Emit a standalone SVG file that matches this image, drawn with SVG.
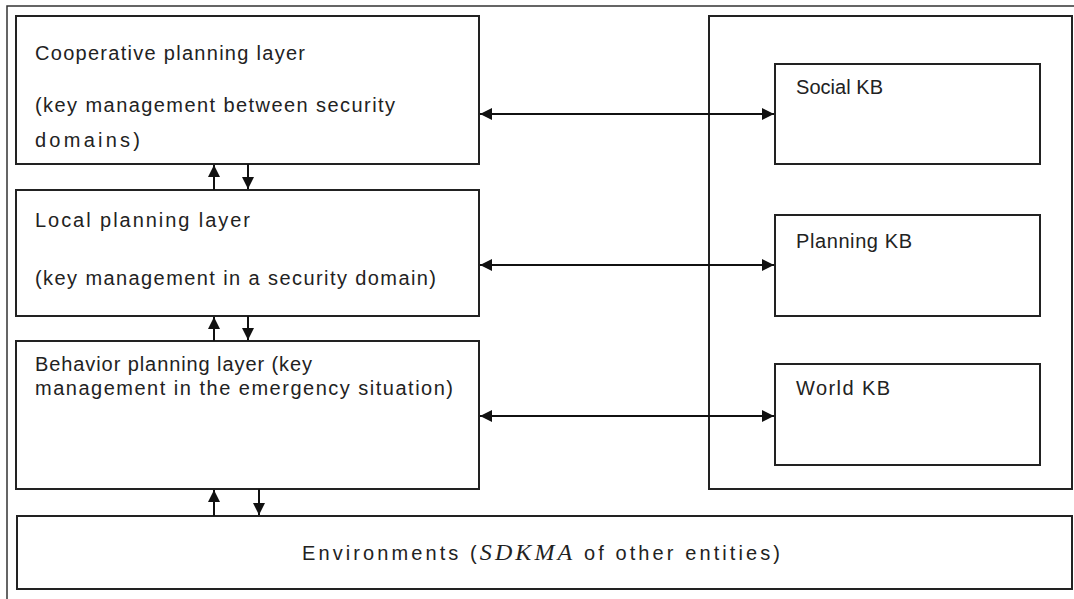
<svg xmlns="http://www.w3.org/2000/svg" width="1074" height="599" viewBox="0 0 1074 599">
<defs>
<marker id="ah" viewBox="0 0 12 12" refX="12" refY="6" markerWidth="12" markerHeight="12" markerUnits="userSpaceOnUse" orient="auto-start-reverse">
<path d="M0,0 L12,6 L0,12 z" fill="#111"/>
</marker>
<style>
.box{fill:#fff;stroke:#222;stroke-width:2}
.t{font-family:"Liberation Sans",Arial,sans-serif;font-size:20px;fill:#222}
.c{stroke:#111;stroke-width:2;fill:none}
.frame{stroke:#333;stroke-width:1.5;fill:none}
</style>
</defs>
<rect width="1074" height="599" fill="#fff"/>
<path class="frame" d="M7,599 V6 H1074"/>
<g id="kb-container"><rect class="box" x="709" y="16" width="363" height="473"/></g>
<g id="coop"><rect class="box" x="16" y="16" width="463" height="148"/>
<text class="t" x="35" y="60" textLength="270">Cooperative planning layer</text>
<text class="t" x="35" y="112" textLength="360">(key management between security</text>
<text class="t" x="35" y="147" textLength="105">domains)</text></g>
<g id="local"><rect class="box" x="16" y="190" width="463" height="126"/>
<text class="t" x="35" y="227" textLength="215">Local planning layer</text>
<text class="t" x="35" y="285" textLength="401">(key management in a security domain)</text></g>
<g id="behavior"><rect class="box" x="16" y="341" width="463" height="148"/>
<text class="t" x="35" y="371" textLength="277">Behavior planning layer (key</text>
<text class="t" x="35" y="395" textLength="418">management in the emergency situation)</text></g>
<g id="social"><rect class="box" x="775" y="64" width="265" height="100"/>
<text class="t" x="796" y="94" textLength="87">Social KB</text></g>
<g id="planning"><rect class="box" x="775" y="215" width="265" height="101"/>
<text class="t" x="796" y="248" textLength="116">Planning KB</text></g>
<g id="world"><rect class="box" x="775" y="364" width="265" height="101"/>
<text class="t" x="796" y="395" textLength="94">World KB</text></g>
<g id="env"><rect class="box" x="17" y="516" width="1055" height="73"/>
<text class="t" x="302" y="560" font-size="22" textLength="478">Environments (<tspan font-family="Liberation Serif,serif" font-style="italic" font-size="24">SDKMA</tspan>  of other entities)</text></g>
<g id="connectors">
<line class="c" x1="480" y1="114" x2="774" y2="114" marker-start="url(#ah)" marker-end="url(#ah)"/>
<line class="c" x1="480" y1="265" x2="774" y2="265" marker-start="url(#ah)" marker-end="url(#ah)"/>
<line class="c" x1="480" y1="416" x2="774" y2="416" marker-start="url(#ah)" marker-end="url(#ah)"/>
<line class="c" x1="214" y1="190" x2="214" y2="165" marker-end="url(#ah)"/>
<line class="c" x1="248" y1="164" x2="248" y2="189" marker-end="url(#ah)"/>
<line class="c" x1="214" y1="341" x2="214" y2="317" marker-end="url(#ah)"/>
<line class="c" x1="248" y1="316" x2="248" y2="340" marker-end="url(#ah)"/>
<line class="c" x1="214" y1="516" x2="214" y2="490" marker-end="url(#ah)"/>
<line class="c" x1="259" y1="489" x2="259" y2="515" marker-end="url(#ah)"/>
</g>
</svg>
